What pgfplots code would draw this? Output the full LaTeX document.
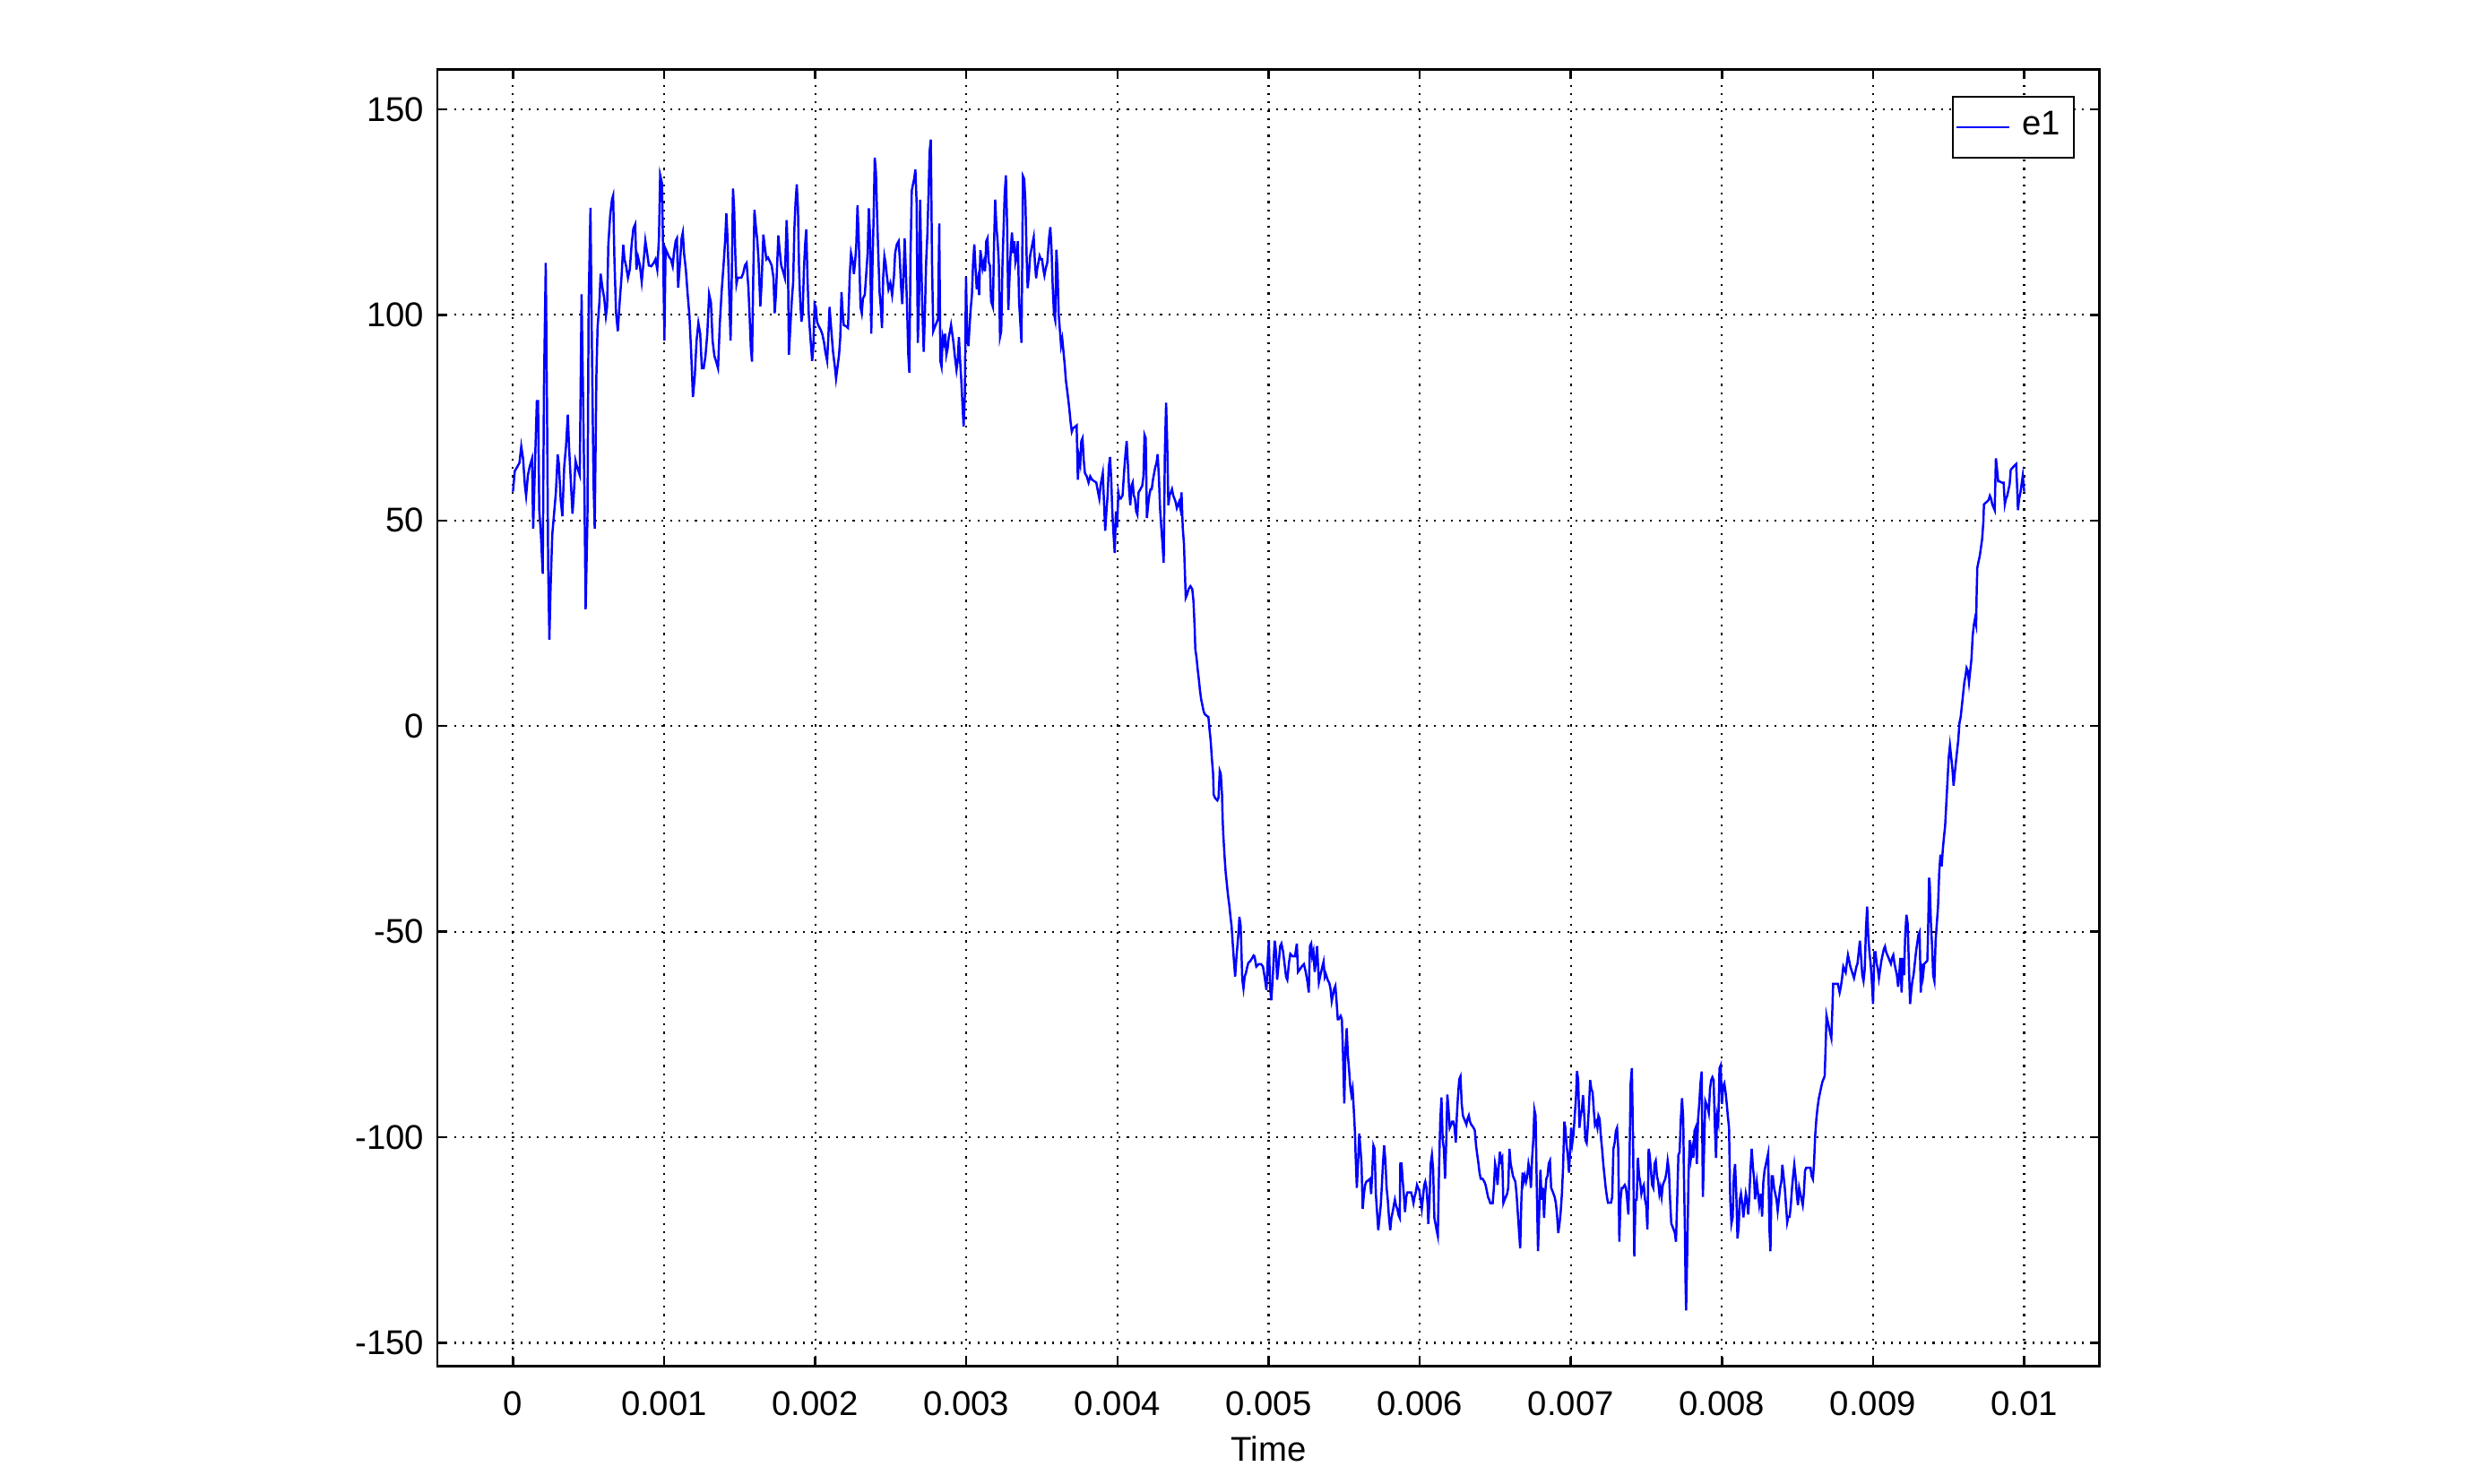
\documentclass[border=0pt]{standalone}
\usepackage{pgfplots}
\usepackage{pgfplotstable}
\pgfplotsset{compat=1.18}
\usepackage{fontspec}
\setmainfont{Liberation Sans}

\pgfplotstableread{
t v
0 57
0.012 62
0.028 63
0.043 64
0.055 68
0.067 65
0.079 58.5
0.087 56
0.099 61
0.110 63
0.126 65
0.134 48
0.146 64
0.158 79
0.166 79
0.174 52.5
0.185 46.5
0.197 37
0.205 82
0.217 112.6
0.225 79
0.233 39
0.241 21
0.249 33.6
0.260 46.5
0.272 51.6
0.284 56.8
0.296 66
0.304 63.7
0.316 55
0.327 51
0.339 63
0.351 68
0.363 75.7
0.371 68
0.383 59.4
0.394 51.6
0.402 56
0.414 64.5
0.426 62.8
0.442 61
0.454 105
0.462 85
0.473 56.8
0.481 28.4
0.493 50.8
0.501 103
0.513 126
0.521 97
0.533 59.4
0.541 48
0.552 85
0.560 97
0.572 103
0.580 110
0.592 106.6
0.604 104
0.615 99.7
0.623 102
0.631 117
0.643 124
0.655 128
0.663 129
0.671 114
0.682 100.6
0.694 96
0.706 103
0.718 109
0.730 117
0.738 113.5
0.749 111.8
0.761 109
0.773 111
0.785 117
0.797 121
0.809 122
0.817 111
0.828 114
0.840 112
0.852 108
0.864 112.7
0.876 118
0.888 115
0.899 112
0.915 111.8
0.931 112.6
0.943 113.5
0.955 111
0.966 118.6
0.974 134
0.986 132
0.994 115
1.002 93.7
1.010 116
1.022 115
1.034 114
1.045 113.5
1.057 111.8
1.065 115
1.077 118
1.085 118.6
1.093 106.6
1.105 112.6
1.116 118.6
1.124 120
1.132 115
1.144 111
1.156 105
1.168 99.7
1.179 91
1.191 80
1.203 85
1.215 93.7
1.227 98
1.239 95.4
1.250 87
1.262 87
1.274 90
1.286 95.4
1.298 105
1.310 103
1.321 93.7
1.333 90
1.345 88.6
1.357 87
1.369 98
1.381 105.7
1.393 111.8
1.404 118
1.412 124.7
1.420 118.6
1.428 109
1.440 93.7
1.448 109
1.456 130.7
1.464 125.5
1.471 115
1.479 107.5
1.487 109
1.499 109
1.511 109
1.523 110
1.535 112
1.546 112.6
1.558 106.6
1.566 99.7
1.574 92
1.582 88.6
1.590 109
1.598 125.5
1.606 122
1.617 118
1.625 113.5
1.637 102
1.645 107.5
1.657 119.5
1.665 117
1.677 113.5
1.688 113.9
1.700 113
1.712 112
1.724 109
1.732 100.4
1.740 104.8
1.748 112
1.756 119.3
1.763 116.4
1.775 112
1.787 110.6
1.799 109
1.811 123
1.819 115
1.826 90.3
1.834 96
1.846 104
1.854 107.7
1.862 120.8
1.870 127.3
1.878 131.7
1.886 125.9
1.893 111.3
1.901 103.3
1.909 98.3
1.917 100.4
1.925 110.6
1.933 117
1.941 120.8
1.949 109
1.957 100.4
1.968 94.6
1.980 88.8
1.988 92.4
1.996 102.6
2.004 101.9
2.012 98.3
2.024 97.2
2.036 96.4
2.047 95.3
2.059 93.2
2.067 91
2.079 88.8
2.087 94.6
2.095 101.9
2.107 96
2.118 91
2.130 87.4
2.138 84.5
2.150 88
2.158 90.3
2.166 94.6
2.174 105.5
2.181 101
2.189 97.5
2.205 97.2
2.217 96.8
2.229 109.9
2.237 115
2.249 112.8
2.256 109.9
2.264 112.8
2.272 117.1
2.280 126.6
2.288 118.6
2.300 101.9
2.308 100.4
2.316 104
2.328 104.8
2.339 110.6
2.347 115
2.355 125.9
2.363 119.3
2.371 95.4
2.379 112
2.387 124.4
2.394 138.2
2.402 134.6
2.410 123.7
2.418 114.2
2.426 105.5
2.434 101.9
2.442 96.8
2.450 109.2
2.458 114.2
2.465 112.8
2.473 109.9
2.485 106.2
2.497 107.7
2.509 104.8
2.521 109.2
2.529 115
2.540 117.1
2.552 117.9
2.560 113.5
2.568 107
2.576 102.6
2.584 109.2
2.592 118.6
2.600 110.6
2.608 101.9
2.616 90.3
2.623 85.9
2.631 115
2.639 130.2
2.647 131.7
2.655 133.1
2.663 135.3
2.671 127.3
2.679 93.2
2.687 103.3
2.694 128
2.702 112.8
2.710 100.4
2.718 91
2.726 100.4
2.734 112.8
2.742 119.3
2.750 129.5
2.757 139.7
2.765 142.6
2.773 112.8
2.781 96
2.789 96.8
2.801 97.9
2.813 99
2.821 122.2
2.828 88.8
2.836 87.4
2.844 94.6
2.852 93.2
2.860 95.4
2.868 90.3
2.876 91.7
2.884 94.6
2.892 96
2.899 97.5
2.907 95.4
2.915 93.2
2.923 90.3
2.935 86.6
2.943 88.8
2.951 94.6
2.959 88.8
2.966 84.5
2.974 78.6
2.982 72.8
2.990 80
2.998 109.2
3.006 94.6
3.014 92.4
3.022 97.5
3.030 101.9
3.037 104.8
3.045 112.8
3.053 117.1
3.061 111.3
3.069 106.2
3.077 108.4
3.085 104.8
3.093 115.7
3.101 113.5
3.108 111.3
3.116 112.8
3.124 110.6
3.132 117.9
3.140 118.6
3.148 112.8
3.156 112
3.164 103.3
3.176 101.9
3.183 116.4
3.191 128
3.199 121.5
3.207 117.9
3.215 112.8
3.223 94.6
3.231 96
3.239 112
3.247 121.5
3.254 129.5
3.262 133.9
3.270 121.5
3.278 101.2
3.286 109.2
3.294 115.7
3.302 120
3.310 115
3.318 117.9
3.325 112.8
3.333 114.2
3.341 117.9
3.349 103.3
3.357 98.3
3.365 93.2
3.375 133.7
3.383 133
3.391 127.5
3.399 114.3
3.406 106.5
3.414 109.6
3.422 114.3
3.430 115.8
3.438 117.4
3.446 118.9
3.454 112.7
3.462 108.9
3.469 111.2
3.477 112.7
3.485 114.3
3.493 113.5
3.501 113.5
3.509 111.2
3.517 109.6
3.525 111.2
3.536 112.7
3.548 118.9
3.556 121.3
3.564 115.8
3.572 106.5
3.580 100.3
3.588 98.8
3.596 115.8
3.604 110.4
3.611 100.3
3.619 96.4
3.627 92.5
3.635 94.1
3.643 91
3.651 87.9
3.659 84
3.667 81.7
3.675 79.3
3.682 77
3.690 73.9
3.698 71.6
3.706 72.4
3.718 72.7
3.730 73.1
3.738 59.9
3.746 65.4
3.754 63.8
3.761 69.3
3.769 70
3.777 64.6
3.785 61.5
3.797 60.7
3.809 59.2
3.820 60.7
3.832 59.9
3.848 59.5
3.860 59.2
3.872 56.8
3.880 55.3
3.888 58.4
3.895 59.9
3.903 61.5
3.911 54.5
3.919 47.5
3.927 52.2
3.935 56.1
3.943 63.1
3.951 65.4
3.959 59.9
3.966 52.2
3.974 46.7
3.982 42.1
3.990 52.2
3.998 48.3
4.006 56.8
4.014 55.3
4.022 55.3
4.034 56.1
4.045 62.3
4.053 66.1
4.061 69.3
4.069 63.8
4.077 57.6
4.085 53.7
4.093 58.4
4.101 59.2
4.108 56.1
4.116 55.3
4.124 52.2
4.132 51.4
4.140 56.8
4.152 57.6
4.164 58.4
4.172 60.7
4.179 70.8
4.187 70
4.195 50.6
4.203 53.7
4.211 56.1
4.219 57.6
4.227 57.6
4.235 59.9
4.243 61.5
4.251 63.1
4.258 63.8
4.266 66.1
4.274 60.7
4.282 52.9
4.290 48.3
4.298 44.4
4.306 39.7
4.314 66.9
4.322 78.6
4.329 69.3
4.337 53.7
4.345 56.1
4.353 56.8
4.361 57.6
4.369 56.1
4.377 55.3
4.385 54.5
4.393 53
4.400 53.7
4.408 54.5
4.416 53
4.424 56.8
4.432 48.3
4.440 44.4
4.452 31.2
4.460 31.9
4.471 33.3
4.483 34
4.495 33.3
4.503 30.4
4.511 23.9
4.515 18.8
4.523 16.7
4.531 13.8
4.538 11.6
4.546 8.7
4.554 6.5
4.562 5.1
4.570 3.6
4.578 2.9
4.590 2.5
4.602 2.2
4.609 -0.7
4.617 -3.6
4.625 -8
4.633 -11.6
4.637 -16.7
4.645 -17.4
4.653 -17.8
4.661 -18.1
4.669 -17.4
4.677 -10.9
4.684 -11.6
4.692 -16.7
4.696 -22.5
4.700 -26.1
4.708 -31.2
4.716 -35.5
4.724 -38.4
4.732 -41.3
4.740 -43.5
4.748 -46.4
4.755 -48.5
4.763 -52.9
4.771 -57.2
4.779 -60.9
4.787 -56.5
4.795 -52.9
4.803 -49.3
4.807 -46.4
4.815 -48.5
4.819 -52.9
4.826 -61.6
4.834 -63.8
4.842 -60.9
4.850 -60.1
4.858 -58.7
4.866 -57.6
4.878 -57.2
4.890 -56.5
4.901 -55.8
4.907 -56
4.919 -58.5
4.935 -57.9
4.951 -57.9
4.963 -58.5
4.974 -61
4.986 -64.2
4.994 -57.3
5.002 -52.2
5.010 -63.5
5.018 -66.7
5.026 -62.3
5.033 -57.3
5.041 -52.2
5.049 -54.8
5.057 -61.7
5.065 -58.5
5.077 -53.5
5.085 -52.9
5.096 -54.8
5.104 -57.3
5.116 -61
5.124 -61.7
5.136 -57.3
5.144 -55.4
5.159 -56
5.175 -56
5.187 -52.9
5.195 -59.8
5.207 -59.2
5.219 -58.5
5.234 -57.9
5.246 -59.8
5.258 -62.3
5.266 -64.8
5.274 -53.5
5.282 -52.9
5.289 -56
5.297 -54.8
5.305 -59.8
5.313 -57.3
5.321 -53.5
5.333 -62.3
5.344 -60.4
5.356 -58.5
5.364 -57.3
5.372 -61
5.379 -60.3
5.391 -61.7
5.402 -62.5
5.410 -63.9
5.418 -66.9
5.426 -65.4
5.434 -63.9
5.442 -63.2
5.450 -66.9
5.458 -71.3
5.465 -71.3
5.477 -70.5
5.485 -71.3
5.493 -80.1
5.501 -91.8
5.509 -78.7
5.517 -73.5
5.525 -80.1
5.533 -83.7
5.540 -87.4
5.548 -89.6
5.556 -88.1
5.564 -93.3
5.572 -99.1
5.576 -104.3
5.584 -112.3
5.592 -106.4
5.600 -99.1
5.608 -102.8
5.615 -106.4
5.623 -117.4
5.631 -113.8
5.639 -111.6
5.647 -110.8
5.659 -110.5
5.671 -110.1
5.679 -113.8
5.686 -108.6
5.694 -102
5.702 -102.8
5.710 -113.8
5.718 -118.2
5.726 -122.6
5.734 -119.6
5.742 -116.7
5.749 -112.3
5.757 -106.4
5.765 -102
5.773 -105.7
5.781 -112.3
5.789 -115.2
5.797 -119.6
5.805 -122.6
5.813 -119.6
5.821 -118.2
5.828 -116.7
5.836 -115.2
5.844 -116.7
5.852 -117.4
5.860 -118.9
5.868 -119.6
5.872 -106.4
5.880 -106.4
5.888 -110.8
5.895 -113.8
5.903 -118.2
5.911 -114.5
5.919 -113.4
5.931 -113.4
5.943 -113.4
5.951 -114.5
5.959 -116
5.966 -114.5
5.974 -113.4
5.982 -111.6
5.990 -112.3
5.998 -113
6.006 -115.2
6.014 -117.4
6.022 -114.5
6.030 -111.6
6.037 -110.8
6.045 -112.3
6.053 -116.7
6.057 -121.1
6.065 -115.2
6.073 -106.4
6.081 -104.3
6.089 -107.9
6.097 -119.6
6.105 -121.1
6.112 -122.6
6.120 -124
6.128 -107.9
6.136 -96.2
6.144 -90.3
6.152 -100.6
6.160 -102.8
6.168 -110.1
6.176 -100.6
6.183 -89.6
6.191 -93.3
6.199 -97.7
6.207 -97
6.215 -96.2
6.223 -96.2
6.231 -97.7
6.239 -101.3
6.246 -94.7
6.254 -89.6
6.262 -85.9
6.270 -85.2
6.278 -91.8
6.286 -94.7
6.294 -95.5
6.302 -96.2
6.309 -96.9
6.317 -95.5
6.325 -94.7
6.333 -96.2
6.341 -96.9
6.349 -97.3
6.357 -97.7
6.365 -98.4
6.373 -102
6.381 -104.3
6.389 -106.4
6.396 -108.6
6.404 -110.1
6.416 -110.1
6.428 -110.8
6.436 -111.6
6.444 -113
6.452 -114.5
6.460 -115.2
6.467 -116
6.475 -116
6.483 -116
6.491 -112.3
6.499 -106.4
6.507 -107.9
6.515 -111.6
6.523 -107.2
6.531 -103.5
6.538 -105.7
6.546 -105
6.554 -116
6.562 -115.2
6.570 -114.5
6.578 -113.8
6.586 -112.3
6.594 -102.8
6.602 -106.4
6.610 -107.9
6.617 -109.4
6.625 -110.1
6.633 -110.8
6.641 -113.8
6.649 -118.2
6.657 -122.6
6.665 -127
6.673 -115.2
6.681 -108.6
6.688 -110.8
6.696 -109.4
6.704 -110.8
6.712 -109.4
6.720 -106.4
6.728 -107.9
6.736 -112.3
6.744 -105
6.752 -100.6
6.759 -93.3
6.767 -94.7
6.775 -112.3
6.783 -127.7
6.791 -118.2
6.799 -107.9
6.807 -115.2
6.815 -112.3
6.823 -119.6
6.830 -113.8
6.838 -110.1
6.846 -109.4
6.854 -106.4
6.862 -105.7
6.870 -112.3
6.878 -113
6.886 -113.8
6.893 -114.5
6.901 -116
6.909 -118.9
6.917 -123.3
6.925 -121.1
6.933 -118.2
6.941 -113.8
6.949 -107.2
6.957 -96.2
6.964 -97.7
6.972 -102
6.980 -104.3
6.988 -108.6
6.996 -102.8
7.002 -97.7
7.010 -101.4
7.018 -99.2
7.026 -94.8
7.034 -90.5
7.041 -83.9
7.049 -86.1
7.057 -97.7
7.065 -94.8
7.073 -93.4
7.081 -89.8
7.089 -94.8
7.097 -100.7
7.105 -101.4
7.112 -97.7
7.120 -92.7
7.128 -86.1
7.136 -88.3
7.144 -89
7.152 -93.4
7.160 -97
7.168 -96.3
7.176 -97.7
7.183 -94.8
7.191 -95.6
7.199 -99.9
7.207 -102.8
7.215 -106.5
7.223 -109.4
7.231 -112.3
7.239 -114.5
7.246 -115.9
7.254 -115.9
7.266 -115.9
7.274 -114.5
7.282 -102.8
7.290 -101.4
7.298 -98.5
7.306 -97.7
7.314 -102.8
7.321 -125.4
7.329 -115.2
7.337 -112.3
7.345 -112.3
7.357 -111.6
7.365 -112.3
7.373 -115.2
7.381 -118.8
7.388 -106.5
7.396 -86.9
7.404 -83.2
7.412 -100.7
7.420 -129
7.428 -115.2
7.436 -115.2
7.444 -105
7.452 -109.4
7.459 -110.8
7.467 -113.7
7.475 -112.3
7.483 -111.6
7.491 -115.2
7.499 -116.6
7.507 -122.4
7.515 -102.8
7.522 -104.3
7.530 -107.9
7.538 -111.6
7.546 -112.3
7.554 -106.5
7.562 -105.7
7.570 -109.4
7.578 -110.8
7.586 -113.7
7.593 -112.3
7.601 -114.5
7.609 -111.6
7.617 -110.8
7.625 -110.1
7.633 -108.6
7.641 -105.7
7.649 -107.9
7.657 -115.2
7.665 -121
7.673 -121.7
7.680 -122.4
7.688 -123.2
7.696 -125.4
7.704 -115.2
7.712 -104.3
7.720 -103.6
7.728 -95.6
7.736 -90.5
7.744 -95.6
7.748 -107.9
7.755 -122.4
7.759 -134.8
7.763 -142.1
7.771 -126.8
7.779 -109.4
7.787 -100.7
7.795 -105
7.803 -102.8
7.811 -105
7.818 -98.5
7.826 -97.7
7.834 -106.5
7.842 -95.6
7.850 -91.9
7.858 -86.9
7.866 -84
7.874 -114.5
7.882 -102.8
7.890 -91.2
7.897 -91.9
7.905 -92.7
7.913 -94.1
7.921 -88.3
7.929 -86.1
7.937 -85.4
7.945 -86.1
7.953 -97
7.961 -105
7.968 -94.8
7.976 -96.3
7.984 -83.2
7.992 -82.5
8.000 -91.9
8.008 -87.6
8.016 -86.9
8.024 -89
8.032 -91.9
8.039 -94.8
8.047 -97.7
8.055 -115.2
8.063 -121
8.071 -119.5
8.079 -109.4
8.087 -106.5
8.095 -113.7
8.103 -124.6
8.111 -121.7
8.118 -115.2
8.126 -113.7
8.134 -115.9
8.142 -119.5
8.150 -116.6
8.158 -113.7
8.166 -115.2
8.174 -118.8
8.181 -114.5
8.189 -107.9
8.197 -102.8
8.205 -107.2
8.213 -110.1
8.219 -115.1
8.231 -110.9
8.239 -113.7
8.247 -116.5
8.258 -113.7
8.266 -119.3
8.274 -110.9
8.282 -108.1
8.290 -106.7
8.298 -105.3
8.306 -103.9
8.314 -122.1
8.321 -127.7
8.329 -109.5
8.337 -109.5
8.345 -112.3
8.353 -113.7
8.361 -115.1
8.369 -117.9
8.377 -115.1
8.385 -112.3
8.393 -110.9
8.400 -106.7
8.408 -109.5
8.416 -112.3
8.424 -116.5
8.432 -120.7
8.440 -119.3
8.448 -119.3
8.456 -116.5
8.464 -112.3
8.471 -109.5
8.479 -106.7
8.487 -109.5
8.495 -113.7
8.503 -116.5
8.511 -112.3
8.519 -113.7
8.527 -115.1
8.535 -116.5
8.542 -113.7
8.550 -108.1
8.558 -107.4
8.574 -107.4
8.586 -107.4
8.594 -109.5
8.602 -110.2
8.609 -106.7
8.617 -99.7
8.625 -95.5
8.633 -92.7
8.641 -90.6
8.649 -89.2
8.657 -87.8
8.665 -86.5
8.673 -85.8
8.680 -85.1
8.688 -75.9
8.692 -70.4
8.700 -71.8
8.708 -73.2
8.716 -74.6
8.724 -75.9
8.732 -67.6
8.736 -62.7
8.751 -62.7
8.767 -62.7
8.779 -64.8
8.787 -63.4
8.795 -61.3
8.803 -58.5
8.811 -59.2
8.819 -59.9
8.826 -57.8
8.834 -55.7
8.842 -57.1
8.850 -58.5
8.862 -59.9
8.874 -61.3
8.882 -59.9
8.890 -58.5
8.897 -57.8
8.905 -55
8.913 -52.2
8.921 -56.4
8.929 -60.6
8.937 -62
8.945 -59.2
8.953 -49.4
8.961 -43.9
8.968 -50.8
8.976 -55
8.984 -57.8
8.992 -62
9.000 -67.6
9.008 -55
9.016 -55
9.024 -57.8
9.032 -59.2
9.039 -61.3
9.047 -59.2
9.055 -57.1
9.063 -55.7
9.071 -54.3
9.079 -53.6
9.087 -55
9.095 -55.7
9.103 -56.4
9.110 -57.1
9.118 -57.8
9.126 -56.4
9.134 -55.7
9.142 -57.8
9.150 -59.2
9.158 -60.6
9.166 -63.4
9.174 -59.9
9.181 -56.4
9.189 -64.8
9.197 -56.4
9.205 -60.6
9.213 -50.8
9.221 -45.9
9.229 -48
9.237 -57.8
9.245 -67.6
9.252 -64.8
9.260 -62
9.268 -60.6
9.276 -57.8
9.284 -55
9.292 -52.9
9.300 -50.8
9.308 -50.1
9.316 -64.8
9.323 -57.8
9.331 -60.6
9.339 -57.8
9.347 -57.5
9.359 -57.1
9.363 -52.2
9.371 -36.9
9.375 -38.2
9.383 -48
9.391 -53.6
9.398 -60.6
9.406 -62
9.414 -52.2
9.422 -48
9.430 -43.9
9.438 -35.5
9.446 -31.3
9.454 -34.1
9.462 -29.9
9.469 -27.1
9.477 -24.3
9.485 -18.7
9.493 -13.1
9.501 -7.5
9.509 -4.7
9.517 -7.5
9.525 -10.3
9.533 -14.5
9.540 -11.7
9.548 -8.9
9.556 -6.1
9.564 -3.4
9.572 0.8
9.580 2.2
9.588 5
9.596 7.8
9.604 10.6
9.611 12
9.619 14.1
9.627 13.4
9.635 10.6
9.643 13.4
9.651 16.2
9.659 21.8
9.667 24.6
9.674 26
9.682 24.6
9.686 33
9.690 38.5
9.698 40
9.706 41.3
9.714 43.4
9.722 45.5
9.730 49.7
9.734 53.9
9.742 54.2
9.753 54.5
9.765 55
9.773 56
9.781 55.3
9.789 53.9
9.797 53.2
9.805 52.5
9.813 65.1
9.821 62.3
9.828 59.5
9.836 59.5
9.852 59.2
9.864 59.2
9.872 53.9
9.880 55.3
9.888 56
9.896 57.4
9.904 58.8
9.911 62.3
9.923 62.8
9.935 63.3
9.947 63.7
9.955 56.7
9.959 52.5
9.967 55.3
9.975 56.7
9.983 58.8
9.991 60.9
10.000 57
}\eone

\begin{document}
\begin{tikzpicture}
\path[use as bounding box] (-27.76mm,-7.44mm) rectangle (129.0mm,86.7mm);
\begin{axis}[
  at={(0,0)}, anchor=south west,
  scale only axis, width=105.5mm, height=82.3mm,
  xmin=-0.0005, xmax=0.0105, ymin=-155.6, ymax=159.7,
  xtick={0,0.001,0.002,0.003,0.004,0.005,0.006,0.007,0.008,0.009,0.01},
  xticklabels={0,0.001,0.002,0.003,0.004,0.005,0.006,0.007,0.008,0.009,0.01},
  ytick={-150,-100,-50,0,50,100,150},
  yticklabels={-150,-100,-50,0,50,100,150},
  scaled x ticks=false, scaled y ticks=false,
  tick align=inside, major tick length=0.6mm,
  every tick/.style={black, line width=0.4pt},
  axis line style={line width=0.45pt, black},
  grid=major,
  major grid style={black, line width=0.35pt, dash pattern=on 0.35pt off 1.15pt},
  tick label style={font=\fontsize{6.2}{7.4}\selectfont},
  xticklabel style={yshift=-1.0pt},
  yticklabel style={xshift=1.1pt},
  label style={font=\fontsize{6.2}{7.4}\selectfont},
  xlabel={Time},
  xlabel style={at={(axis description cs:0.5,0)}, anchor=north, yshift=-3.24mm},
  legend style={at={(1,1)}, anchor=north east, xshift=-1.6mm, yshift=-1.7mm,
    draw=black, line width=0.35pt, font=\fontsize{6.2}{7.4}\selectfont,
    inner xsep=0.15mm, inner ysep=0.2mm},
  legend image code/.code={\draw[#1] (0mm,0mm) -- (3.4mm,0mm);},
]
\addplot[blue, line width=0.4pt] table[x expr=\thisrow{t}/1000, y=v] {\eone};
\addlegendentry{e1}
\end{axis}
\end{tikzpicture}
\end{document}
